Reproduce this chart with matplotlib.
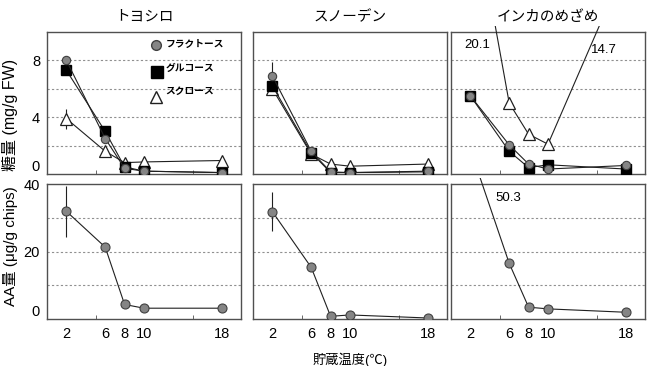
import numpy as np
import matplotlib
matplotlib.use('Agg')
import matplotlib.pyplot as plt
from matplotlib.patches import Rectangle

plt.rcParams['font.family'] = ['Liberation Sans', 'Noto Sans CJK JP', 'DejaVu Sans']
plt.rcParams['axes.unicode_minus'] = False

# 貯蔵温度
temps = [2, 6, 8, 10, 18]
varieties = ['トヨシロ', 'スノーデン', 'インカのめざめ']
sugar_names = ['フラクトース', 'グルコース', 'スクロース']

# 糖量 (mg/g FW)
fructose = [[8.0, 2.5, 0.4, 0.2, 0.1],
            [6.9, 1.6, 0.15, 0.1, 0.2],
            [5.5, 2.05, 0.7, 0.35, 0.6]]
glucose = [[7.3, 3.0, 0.5, 0.2, 0.1],
           [6.2, 1.5, 0.1, 0.1, 0.15],
           [5.5, 1.6, 0.45, 0.65, 0.35]]
sucrose = [[3.9, 1.6, 0.8, 0.85, 0.95],
           [6.0, 1.4, 0.7, 0.55, 0.7],
           [20.1, 5.0, 2.8, 2.1, 14.7]]
fructose_err = [[0.3, 0, 0, 0, 0], [1.0, 0, 0, 0, 0], [0, 0, 0, 0, 0]]
sucrose_err = [[0.7, 0, 0, 0, 0], [0, 0, 0, 0, 0], [0, 0.4, 0, 0, 0]]

# AA量 (μg/g chips)
aa = [[31.9, 21.3, 4.3, 3.2, 3.2],
      [31.8, 15.3, 0.8, 1.2, 0.3],
      [50.3, 16.5, 3.5, 3.0, 2.0]]
aa_err = [[7.5, 0, 0, 0, 0], [5.7, 0, 0, 0, 0], [0, 0, 0, 0, 0]]

W, H = 653, 366
fig = plt.figure(figsize=(W / 100, H / 100), dpi=100)

lefts = [47, 253, 451]
width = 194
spine_c = '#505050'
grid_c = '#909090'


def make_ax(left, top, bottom):
    ax = fig.add_axes([left / W, 1 - bottom / H, width / W, (bottom - top) / H])
    for s in ax.spines.values():
        s.set_color(spine_c)
        s.set_linewidth(1.0)
    ax.set_xlim(0, 20)
    ax.set_xticks(temps)
    ax.set_xticks([5, 10, 15], minor=True)
    ax.tick_params(axis='x', which='major', length=0, labelsize=10.5, pad=6)
    ax.tick_params(axis='x', which='minor', direction='in', length=3, color=spine_c)
    ax.tick_params(axis='y', length=0, labelsize=10.5, pad=5)
    return ax


def clip_line(ax, artist_list):
    r = Rectangle((0, 0), 1, 1.045, transform=ax.transAxes)
    for a in artist_list:
        a.set_clip_path(r)


mk = dict(color='#202020', lw=0.8)

for i in range(3):
    # 糖量
    ax = make_ax(lefts[i], 32, 174)
    ax.set_ylim(0, 10)
    for g in [2, 4, 6, 8]:
        ax.axhline(g, color=grid_c, lw=0.8, ls=(0, (2, 2)), zorder=0)
    l1 = ax.plot(temps, sucrose[i], marker='^', ms=8, mfc='white', mec='#202020',
                 mew=0.9, **mk, zorder=3)
    ax.errorbar(temps, sucrose[i], yerr=sucrose_err[i], fmt='none',
                ecolor='#202020', elinewidth=0.8, capsize=0, zorder=2)
    l2 = ax.plot(temps, glucose[i], marker='s', ms=6.5, mfc='black', mec='black',
                 **mk, zorder=4)
    l3 = ax.plot(temps, fructose[i], marker='o', ms=6, mfc='#858585', mec='#404040',
                 mew=0.8, **mk, zorder=5)
    ax.errorbar(temps, fructose[i], yerr=fructose_err[i], fmt='none',
                ecolor='#202020', elinewidth=0.8, capsize=0, zorder=2)
    clip_line(ax, l1 + l2 + l3)
    ax.set_xticklabels([])
    if i == 0:
        ax.set_yticks([0, 4, 8])
        ax.set_yticklabels(['0', '4', '8'])
        ax.get_yticklabels()[0].set_va('bottom')
        ax.set_ylabel('糖量 (mg/g FW)', fontsize=11.5)
        ax.yaxis.set_label_coords(-0.15, 0.415)
        # 凡例
        hx = [11.2, 11.3, 11.2]
        hy = [9.1, 7.2, 5.4]
        mks = [dict(marker='o', ms=7, mfc='#858585', mec='#404040'),
               dict(marker='s', ms=8.5, mfc='black', mec='black'),
               dict(marker='^', ms=9, mfc='white', mec='#202020')]
        ty = [9.15, 7.45, 5.85]
        for n in range(3):
            ax.plot([hx[n]], [hy[n]], ls='none', **mks[n], zorder=6)
            ax.text(12.2, ty[n], sugar_names[n], fontsize=7, fontweight='bold',
                    va='center', ha='left', zorder=6,
                    family=['Noto Sans CJK JP', 'DejaVu Sans'])
    else:
        ax.set_yticks([2, 4, 6, 8])
        ax.set_yticklabels([])
    ax.set_title(varieties[i], fontsize=10.5, pad=8)

    # AA量
    ax = make_ax(lefts[i], 184, 319)
    ax.set_ylim(0, 40)
    for g in [10, 20, 30]:
        ax.axhline(g, color=grid_c, lw=0.8, ls=(0, (2, 2)), zorder=0)
    la = ax.plot(temps, aa[i], marker='o', ms=6.5, mfc='#858585', mec='#404040',
                 mew=0.8, **mk, zorder=5)
    ax.errorbar(temps, aa[i], yerr=aa_err[i], fmt='none', ecolor='#202020',
                elinewidth=0.8, capsize=0, zorder=2)
    clip_line(ax, la)
    if i == 0:
        ax.set_yticks([0, 20, 40])
        ax.get_yticklabels()[0].set_va('bottom')
        ax.set_ylabel('AA量 (μg/g chips)', fontsize=11)
        ax.yaxis.set_label_coords(-0.15, 0.54)
    else:
        ax.set_yticks([10, 20, 30])
        ax.set_yticklabels([])
    if i == 1:
        ax.set_xlabel('貯蔵温度(℃)', fontsize=9.5, labelpad=8)

# 範囲外の値
fig.text(477 / W, 1 - 45 / H, '20.1', fontsize=9.5, ha='center', va='center')
fig.text(604 / W, 1 - 50 / H, '14.7', fontsize=9.5, ha='center', va='center')
fig.text(508 / W, 1 - 198 / H, '50.3', fontsize=9.5, ha='center', va='center')

fig.savefig('out.png', dpi=100)
